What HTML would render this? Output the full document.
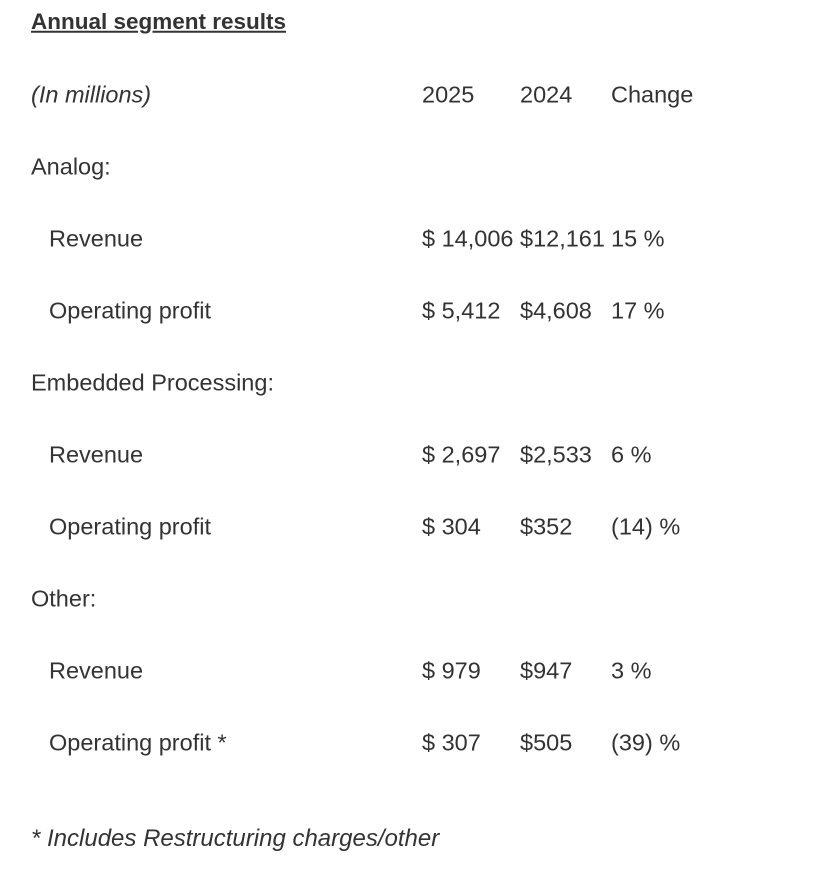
<!DOCTYPE html>
<html><head><style>
body{margin:0;width:826px;height:880px;background:#fff;font-family:"Liberation Sans",Arial,sans-serif;color:#333;font-size:23.5px;position:relative;overflow:hidden}
div{position:absolute;white-space:nowrap;line-height:1;transform:translateY(-50%)}
.t{font-weight:bold;text-decoration:underline;font-size:22.5px}
.i{font-style:italic}
</style></head><body>
<div class="t" style="left:31px;top:22px">Annual segment results</div>
<div class="i" style="left:31px;top:95px">(In millions)</div>
<div style="left:422px;top:95px">2025</div>
<div style="left:520px;top:95px">2024</div>
<div style="left:611px;top:95px">Change</div>

<div style="left:31px;top:167px">Analog:</div>
<div style="left:49px;top:239px">Revenue</div>
<div style="left:422px;top:239px">$ 14,006</div>
<div style="left:520px;top:239px">$12,161</div>
<div style="left:611px;top:239px">15 %</div>
<div style="left:49px;top:311px">Operating profit</div>
<div style="left:422px;top:311px">$ 5,412</div>
<div style="left:520px;top:311px">$4,608</div>
<div style="left:611px;top:311px">17 %</div>

<div style="left:31px;top:383px">Embedded Processing:</div>
<div style="left:49px;top:455px">Revenue</div>
<div style="left:422px;top:455px">$ 2,697</div>
<div style="left:520px;top:455px">$2,533</div>
<div style="left:611px;top:455px">6 %</div>
<div style="left:49px;top:527px">Operating profit</div>
<div style="left:422px;top:527px">$ 304</div>
<div style="left:520px;top:527px">$352</div>
<div style="left:611px;top:527px">(14) %</div>

<div style="left:31px;top:599px">Other:</div>
<div style="left:49px;top:671px">Revenue</div>
<div style="left:422px;top:671px">$ 979</div>
<div style="left:520px;top:671px">$947</div>
<div style="left:611px;top:671px">3 %</div>
<div style="left:49px;top:743px">Operating profit *</div>
<div style="left:422px;top:743px">$ 307</div>
<div style="left:520px;top:743px">$505</div>
<div style="left:611px;top:743px">(39) %</div>

<div class="i" style="left:31px;top:839px;font-size:24px">* Includes Restructuring charges/other</div>
</body></html>
